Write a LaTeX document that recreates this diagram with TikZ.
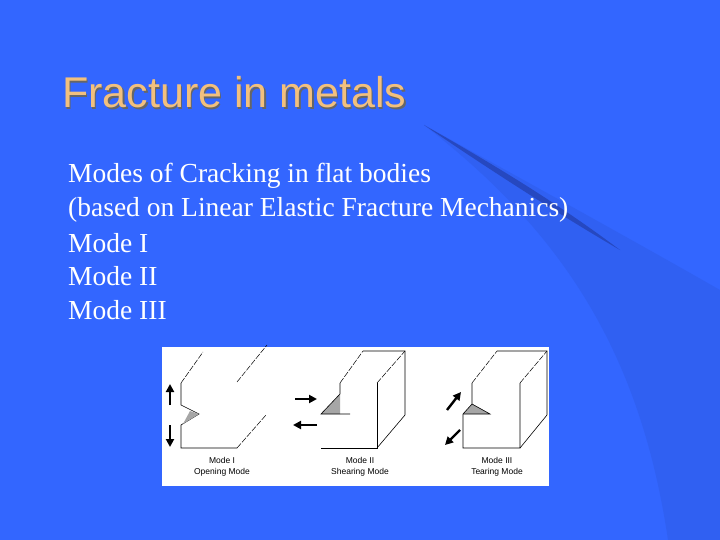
\documentclass[tikz,border=0pt]{standalone}
\usepackage{fontspec}
\setmainfont{Liberation Serif}
\newfontfamily\arial{Liberation Sans}
\usetikzlibrary{arrows.meta}
\definecolor{bg}{HTML}{3366FF}
\definecolor{sw}{HTML}{3060F2}
\definecolor{swd}{HTML}{2648C0}
\definecolor{ttl}{HTML}{F2C07E}
\tikzset{ln/.style={line width=0.6pt,black},
 dl/.style={line width=0.5pt,black,dash pattern=on 6pt off 1.5pt},
 ar/.style={line width=2.4pt,-{Triangle[length=8pt,width=8pt]}},
 lbl/.style={font=\arial\fontsize{8.5}{10.5}\selectfont,align=center,inner sep=0},
 body/.style={anchor=west,font=\fontsize{27.5}{30}\selectfont,text=white,inner sep=0}}
\begin{document}
\begin{tikzpicture}[x=1pt,y=-1pt]
\fill[bg] (0,0) rectangle (720,540);
\useasboundingbox (0,0) rectangle (720,540);
\fill[sw] (424,125) .. controls (560,200) and (650,250) .. (720,290) -- (720,540) -- (668,540) .. controls (640,350) and (560,230) .. (424,125);
\fill[swd] (424,125) .. controls (500,168) and (560,205) .. (620,250) .. controls (560,215) and (490,170) .. (424,125);
\node[anchor=base west,font=\arial\fontsize{43}{45}\selectfont,text=black!60,inner sep=0] at (63.5,109.5) {Fracture in metals};
\node[anchor=base west,font=\arial\fontsize{43}{45}\selectfont,text=ttl,inner sep=0] (title) at (62,108) {Fracture in metals};
\node[body] (l1) at (68,176) {Modes of Cracking in flat bodies};
\node[body] (l2) at (68,210) {(based on Linear Elastic Fracture Mechanics)};
\node[body] (l3) at (68,243) {Mode I};
\node[body] (l4) at (68,276) {Mode II};
\node[body] (l5) at (68,310) {Mode III};
\fill[white] (162,347) rectangle (549,486);
% Mode I
\draw[ln] (181,383) -- (181,405) -- (199,414) -- (181,425) -- (181,448) -- (237,448);
\fill[gray!70] (190,411) -- (199,414) -- (183,424) -- cycle;
\draw[dl] (181,383) -- (203,352);
\draw[dl] (237,382) -- (267,345);
\draw[dl] (237,448) -- (266,415);
\coordinate (a1) at (170,405); \coordinate (b1) at (170,384);
\coordinate (a2) at (170,425); \coordinate (b2) at (170,447);
\draw[ar] (a1) -- (b1); \draw[ar] (a2) -- (b2);
\node[lbl] (m1) at (222,467) {Mode I\\Opening Mode};
% Mode II
\fill[gray!70] (321,414) -- (340,394) -- (340,414) -- cycle;
\draw[ln] (340,383) -- (340,394) -- (321,414) -- (350,414);
\draw[ln] (321,448) -- (377,448) -- (377,383);
\draw[ln] (377,448) -- (405,415) -- (405,351) -- (363,351);
\draw[dl] (340,383) -- (363,351);
\draw[dl] (377,383) -- (405,351);
\coordinate (a3) at (295,399); \coordinate (b3) at (317,399);
\coordinate (a4) at (317,425); \coordinate (b4) at (293,425);
\draw[ar] (a3) -- (b3); \draw[ar] (a4) -- (b4);
\node[lbl] (m2) at (360,467) {Mode II\\Shearing Mode};
% Mode III
\fill[gray!70] (472,404) -- (463,414) -- (490,414) -- cycle;
\draw[ln] (472,383) -- (472,404) -- (463,414) -- (463,448) -- (520,448) -- (520,383);
\draw[ln] (472,404) -- (490,414) -- (463,414);
\draw[ln] (520,448) -- (547,415) -- (547,351) -- (497,351);
\draw[dl] (472,383) -- (497,351);
\draw[dl] (520,383) -- (547,351);
\coordinate (a5) at (447,410); \coordinate (b5) at (461,392);
\coordinate (a6) at (460,430); \coordinate (b6) at (445,445);
\draw[ar] (a5) -- (b5); \draw[ar] (a6) -- (b6);
\node[lbl] (m3) at (497,467) {Mode III\\Tearing Mode};
\end{tikzpicture}
\end{document}
